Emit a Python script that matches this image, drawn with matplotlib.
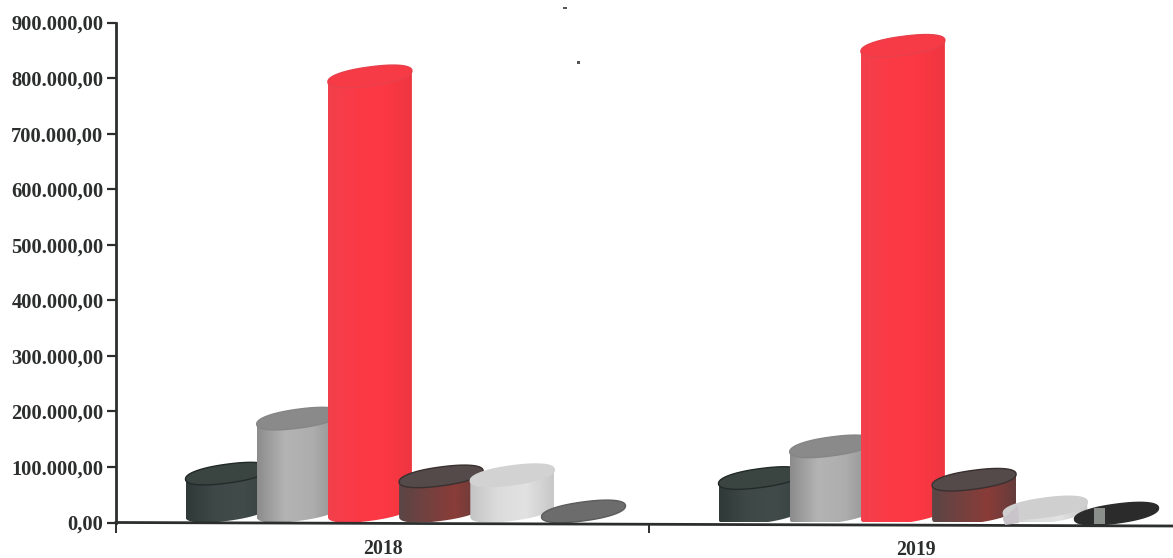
import numpy as np
import matplotlib
matplotlib.use("Agg")
import matplotlib.pyplot as plt
from matplotlib.colors import LinearSegmentedColormap
from matplotlib.lines import Line2D
from matplotlib.patches import Polygon, Rectangle

years = ["2018", "2019"]
values_2018 = [88000, 187000, 803000, 83000, 85000, 20000]
values_2019 = [80000, 137000, 858000, 77000, 27000, 16000]
floor_levels = [20000, 16000]
y_ticks = [0, 100000, 200000, 300000, 400000, 500000, 600000, 700000, 800000, 900000]
y_tick_labels = ["0,00", "100.000,00", "200.000,00", "300.000,00", "400.000,00",
                 "500.000,00", "600.000,00", "700.000,00", "800.000,00", "900.000,00"]

side_colors = [
    ["#2f3937", "#3e4947", "#414c4a", "#37413f"],
    ["#8c8c8c", "#b4b4b4", "#adadad", "#8f8f8f"],
    ["#f2404c", "#fb3a46", "#fc3844", "#ee3640"],
    ["#5a4646", "#73413f", "#8a3c38", "#643c3c"],
    ["#c4c4c4", "#dcdcdc", "#e2e2e2", "#c8c8c8"],
    ["#666666", "#666666", "#666666", "#666666"],
]
top_colors = ["#3a4441", "#8a8a8a", "#f63a46", "#544a4a", "#d2d2d2", "#6c6c6c"]
top_colors_2019 = ["#3a4441", "#8a8a8a", "#f63a46", "#544a4a", "#cfcfcf", "#2b2b2b"]
edge_colors = ["#232b29", "#868686", "#e8404c", "#3a3030", "#d2d2d2", "#5c5c5c"]
edge_colors_2019 = ["#232b29", "#868686", "#e8404c", "#3a3030", "#cfcfcf", "#2b2b2b"]

W, H = 1173, 558
AXIS_LEFT, AXIS_ZERO, AXIS_TOP = 116, 522.5, 22.5
PX_Y = 900000 / (AXIS_ZERO - AXIS_TOP)
PX_X = 1 / 533.0
INK = "#2c2e2e"

plt.rcParams["font.family"] = ["Liberation Serif", "DejaVu Serif"]
plt.rcParams["font.weight"] = "bold"

fig = plt.figure(figsize=(W / 100, H / 100), dpi=100, facecolor="white")
ax = fig.add_axes([AXIS_LEFT / W, 1 - AXIS_ZERO / H, 1 - AXIS_LEFT / W, AXIS_ZERO / H])
ax.set_xlim(-0.5, -0.5 + (W - AXIS_LEFT) * PX_X)
ax.set_ylim(0, AXIS_ZERO * PX_Y)
ax.patch.set_alpha(0)

half_w = 42 * PX_X
rise = 5.5 * PX_Y
half_h = 9.5 * PX_Y
slot = 71.2 * PX_X
first_offset = -155 * PX_X
ROUNDING = 0.9


def ring(cx, cy, t):
    # Rounded ellipse, tilted so that its right end sits higher than its left
    c = np.sign(np.cos(t)) * np.abs(np.cos(t)) ** ROUNDING
    s = np.sign(np.sin(t)) * np.abs(np.sin(t)) ** ROUNDING
    return np.column_stack([cx + half_w * c, cy + half_h * s + rise * c])


def draw_cylinder(cx, top, floor, body, cap, edge, z):
    upper = np.linspace(0, np.pi, 80)
    lower = np.linspace(np.pi, 2 * np.pi, 80)
    if top - floor > 1000:
        outline = np.vstack([ring(cx, top, upper), ring(cx, floor, lower)])
        clip = Polygon(outline, closed=True, transform=ax.transData, facecolor="none", edgecolor="none")
        ax.add_patch(clip)
        cmap = LinearSegmentedColormap.from_list("side", body)
        shade = ax.imshow(np.linspace(0, 1, 128).reshape(1, -1), cmap=cmap, aspect="auto",
                          extent=(cx - half_w, cx + half_w, floor - 14 * PX_Y, top + 14 * PX_Y),
                          zorder=z, interpolation="bilinear")
        shade.set_clip_path(clip)
        shade.set_clip_on(True)
    ax.add_patch(Polygon(ring(cx, top, np.linspace(0, 2 * np.pi, 160)), closed=True,
                         facecolor=cap, edgecolor=edge, linewidth=1.0, zorder=z + 0.1,
                         clip_on=False))


for g, (series, caps, edges) in enumerate([(values_2018, top_colors, edge_colors),
                                           (values_2019, top_colors_2019, edge_colors_2019)]):
    for i, val in enumerate(series):
        centre = g + first_offset + i * slot
        draw_cylinder(centre, val, floor_levels[g], side_colors[i], caps[i], edges[i], 3 + i + g * 10)

ax.set_xlim(-0.5, -0.5 + (W - AXIS_LEFT) * PX_X)
ax.set_ylim(0, AXIS_ZERO * PX_Y)

# Baseline drifts slightly downward toward the right edge
ax.add_line(Line2D([0, 1], [0, -3.5 * PX_Y], transform=ax.get_yaxis_transform(),
                   color=INK, linewidth=2.0, zorder=30, clip_on=False))

for name in ("top", "right", "bottom"):
    ax.spines[name].set_visible(False)
ax.spines["left"].set_bounds(0, 900000)
ax.spines["left"].set_linewidth(2.0)
ax.spines["left"].set_color(INK)
ax.spines["left"].set_zorder(30)

ax.set_yticks(y_ticks)
ax.set_yticklabels(y_tick_labels, fontsize=14.8, color=INK)
ax.tick_params(axis="y", length=6.5, width=1.6, color=INK, pad=2.5)

ax.set_xticks([0, 1])
ax.set_xticklabels(years, fontsize=14.2, color=INK)
ax.set_xticks([-0.5, 0.5], minor=True)
ax.tick_params(axis="x", which="major", length=0, pad=12)
ax.tick_params(axis="x", which="minor", length=7, width=1.4, color=INK)
ax.xaxis.get_major_ticks()[1].set_pad(12.5)

# Scanner specks and the smudged marks on the last 2019 cylinders
overlay = fig.add_axes([0, 0, 1, 1], zorder=40)
overlay.set_xlim(0, W)
overlay.set_ylim(H, 0)
overlay.axis("off")
overlay.patch.set_alpha(0)
overlay.add_patch(Polygon([(1003, 519), (1018, 505), (1019, 523), (1005, 525)], closed=True,
                          facecolor="#c8c4ca", edgecolor="none"))
overlay.add_patch(Rectangle((1094, 508), 11, 16, facecolor="#8b8f8b", edgecolor="none"))
overlay.add_patch(Rectangle((563, 7), 4, 2, facecolor="#555555", edgecolor="none"))
overlay.add_patch(Rectangle((577, 61), 2.5, 2.5, facecolor="#555555", edgecolor="none"))

fig.savefig("out.png", dpi=100, facecolor="white")
